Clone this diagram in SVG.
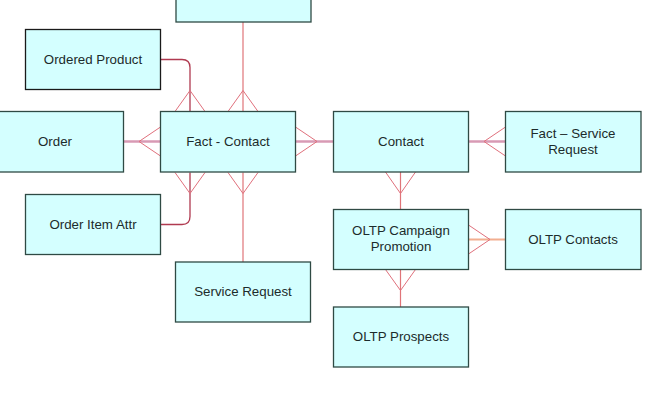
<svg xmlns="http://www.w3.org/2000/svg" width="659" height="411" viewBox="0 0 659 411">
<style>
.box{fill:#d4ffff;stroke:#2f4a44;stroke-width:1.3}
.dark{stroke:#1a1a1a}
.t{font-family:"Liberation Sans",Arial,sans-serif;font-size:13.3px;fill:#1c2b2b;text-anchor:middle}
.ln{fill:none;stroke:#e07478;stroke-width:1.2}
.dr{fill:none;stroke:#b03a50;stroke-width:1.3}
.thick{fill:none;stroke:#d89ab4;stroke-width:2.4}
.or{fill:none;stroke:#f2ae90;stroke-width:2}
.cf{fill:none;stroke:#e0707c;stroke-width:1}
</style>
<rect width="659" height="411" fill="#ffffff"/>
<g id="connectors">
  <line class="ln" x1="243" y1="22" x2="243" y2="111.5"/>
  <polyline class="cf" points="228,111.5 243,90.5 258,111.5"/>
  <path class="dr" d="M160.5,59.5 H182 Q190,59.5 190,67.5 V111.5"/>
  <polyline class="cf" points="175,111.5 190,90.5 205,111.5"/>
  <line class="thick" x1="123.5" y1="141.5" x2="160.5" y2="141.5"/>
  <polyline class="cf" points="160.5,127 139,141.5 160.5,156"/>
  <line class="thick" x1="295.5" y1="141.5" x2="333.5" y2="141.5"/>
  <polyline class="cf" points="295.5,127 317,141.5 295.5,156"/>
  <path class="dr" d="M160.5,224.5 H182 Q190,224.5 190,216.5 V172.5"/>
  <polyline class="cf" points="175,172.5 190,193.5 205,172.5"/>
  <line class="ln" x1="243" y1="172.5" x2="243" y2="262"/>
  <polyline class="cf" points="228,172.5 243,193.5 258,172.5"/>
  <line class="thick" x1="468.5" y1="141.5" x2="505.5" y2="141.5"/>
  <polyline class="cf" points="505.5,127 484,141.5 505.5,156"/>
  <line class="ln" x1="400.5" y1="172" x2="400.5" y2="209.5"/>
  <polyline class="cf" points="385.5,172 400.5,193.5 415.5,172"/>
  <line class="or" x1="468.5" y1="239.5" x2="505.5" y2="239.5"/>
  <polyline class="cf" points="468.5,225 490,239.5 468.5,254"/>
  <line class="ln" x1="400.5" y1="269.5" x2="400.5" y2="307"/>
  <polyline class="cf" points="385.5,269.5 400.5,290.5 415.5,269.5"/>
</g>
<g id="top-node"><rect class="box" x="176" y="-38" width="135" height="60"/></g>
<g id="ordered-product"><rect class="box dark" x="25.5" y="29.5" width="135" height="60"/><text class="t" x="93" y="64">Ordered Product</text></g>
<g id="order"><rect class="box" x="-11.5" y="111.5" width="135" height="60.5"/><text class="t" x="55" y="146">Order</text></g>
<g id="fact-contact"><rect class="box" x="160.5" y="111.5" width="135" height="60.5"/><text class="t" x="228" y="146">Fact - Contact</text></g>
<g id="contact"><rect class="box" x="333.5" y="111.5" width="135" height="60.5"/><text class="t" x="401" y="146">Contact</text></g>
<g id="fact-service-request"><rect class="box" x="505.5" y="111.5" width="135.5" height="60.5"/><text class="t" x="573" y="138">Fact – Service</text><text class="t" x="573" y="154">Request</text></g>
<g id="order-item-attr"><rect class="box" x="25.5" y="194.5" width="135" height="60"/><text class="t" x="93" y="229">Order Item Attr</text></g>
<g id="service-request"><rect class="box" x="175.5" y="262" width="135" height="60"/><text class="t" x="243" y="296">Service Request</text></g>
<g id="oltp-campaign-promotion"><rect class="box" x="333.5" y="209.5" width="135" height="60"/><text class="t" x="401" y="235">OLTP Campaign</text><text class="t" x="401" y="251">Promotion</text></g>
<g id="oltp-contacts"><rect class="box" x="505.5" y="209.5" width="135.5" height="60"/><text class="t" x="573" y="243.5">OLTP Contacts</text></g>
<g id="oltp-prospects"><rect class="box" x="333.5" y="307" width="135" height="60"/><text class="t" x="401" y="341">OLTP Prospects</text></g>
</svg>
